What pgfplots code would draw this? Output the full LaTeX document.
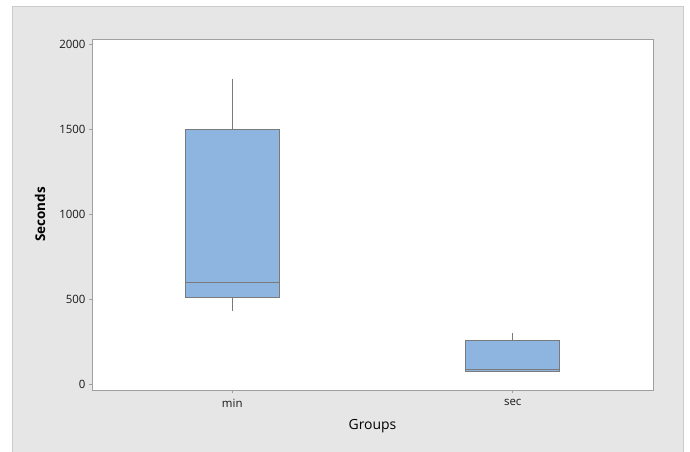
\documentclass[border=0pt]{standalone}
\usepackage{pgfplots}
\pgfplotsset{compat=1.18}
\usepgfplotslibrary{statistics}
\usepackage{fontspec}
\setmainfont{Open Sans}
\definecolor{panel}{HTML}{E6E6E6}
\definecolor{boxfill}{HTML}{8EB4E0}
\definecolor{boxedge}{HTML}{7A7A7A}
\definecolor{axline}{HTML}{A0A0A0}
\begin{document}
\begin{tikzpicture}[x=1bp,y=1bp]
\useasboundingbox (0,0) rectangle (690,452);
\fill[white] (0,0) rectangle (690,452);
\fill[panel] (12,0) rectangle (684,446);
\draw[line width=0.8bp, color=black!20] (12.4,0) -- (12.4,446) -- (683.6,446) -- (683.6,0);
\begin{axis}[
  at={(92bp,62bp)}, anchor=south west,
  scale only axis, width=561bp, height=351bp,
  xmin=-0.5, xmax=1.5, ymin=-35, ymax=2033,
  axis background/.style={fill=white},
  axis line style={axline, line width=0.8bp},
  xtick={0,1}, xticklabels={min,sec},
  ytick={0,500,1000,1500,2000},
  tick align=outside, major tick length=3bp,
  tick style={axline, line width=0.6bp},
  xtick pos=bottom, ytick pos=left,
  /pgf/number format/assume math mode=true,
  /pgf/number format/1000 sep={},
  tick label style={font=\fontsize{11.5}{13}\selectfont, color=black!90},
  xticklabel style={yshift=-3bp},
  ylabel={\textbf{Seconds}},
  xlabel={Groups},
  ylabel style={at={(axis description cs:-0.0927,0.5)}, anchor=center, font=\fontsize{13.5}{15}\selectfont},
  xlabel style={at={(axis description cs:0.5,-0.1026)}, anchor=center, font=\fontsize{14}{16}\selectfont},
  boxplot/draw direction=y,
  boxplot/box extend=0.335,
  boxplot/whisker extend=0,
]
\addplot[draw=boxedge, fill=boxfill, line width=0.8bp, solid,
  boxplot prepared={draw position=0, lower whisker=430, lower quartile=510, median=600, upper quartile=1500, upper whisker=1800}]
  coordinates {};
\addplot[draw=boxedge, fill=boxfill, line width=0.8bp, solid,
  boxplot prepared={draw position=1, lower whisker=72, lower quartile=72, median=86, upper quartile=257, upper whisker=302}]
  coordinates {};
\end{axis}
\end{tikzpicture}
\end{document}
